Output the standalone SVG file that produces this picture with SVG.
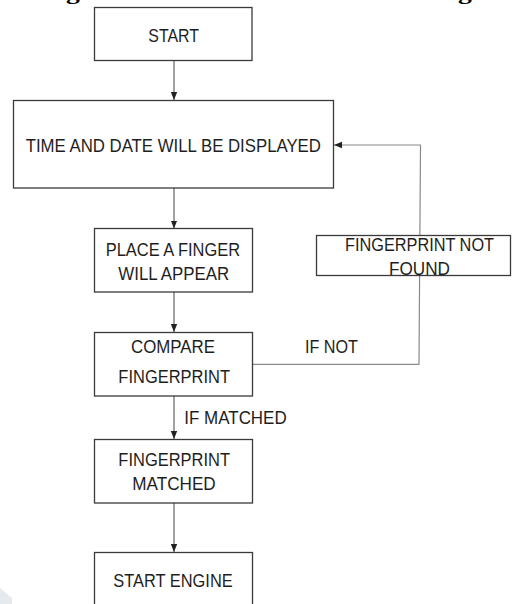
<svg xmlns="http://www.w3.org/2000/svg" width="512" height="604" viewBox="0 0 512 604">
<defs>
<style>
.box{fill:#fff;stroke:#3a3a3a;stroke-width:1.3}
.t{font-family:"Liberation Sans",Arial,sans-serif;font-size:18px;fill:#1e1e1e;text-anchor:middle}
.lbl{font-family:"Liberation Sans",Arial,sans-serif;font-size:18px;fill:#1e1e1e}
.c{fill:none;stroke:#444;stroke-width:1}
.fb{fill:none;stroke:#8a8a8a;stroke-width:1.2}
.title{font-family:"Liberation Serif","Times New Roman",serif;font-weight:bold;font-size:22px;fill:#000}
</style>
<marker id="ah" viewBox="0 0 8 8" refX="8" refY="4" markerWidth="8" markerHeight="8" markerUnits="userSpaceOnUse" orient="auto">
<path d="M0,0.8 L8,4 L0,7.2 Z" fill="#222"/>
</marker>
</defs>
<rect width="512" height="604" fill="#fff"/>
<path d="M0,588 L12,598 L12,604 L0,604 Z" fill="#e6eaee"/>
<text class="title" x="0" y="-1.5" textLength="507" lengthAdjust="spacingAndGlyphs">3.1 Figure: Flow chart of the Smart Engine</text>

<g id="connectors">
<line class="c" x1="174" y1="61" x2="174" y2="100" marker-end="url(#ah)"/>
<line class="c" x1="174" y1="188" x2="174" y2="228.5" marker-end="url(#ah)"/>
<line class="c" x1="174" y1="292" x2="174" y2="332" marker-end="url(#ah)"/>
<line class="c" x1="174" y1="396" x2="174" y2="439" marker-end="url(#ah)"/>
<line class="c" x1="174" y1="503" x2="174" y2="552" marker-end="url(#ah)"/>
<path class="fb" d="M253,364.3 L419,364.3 L420.5,145 L334,145" marker-end="url(#ah)"/>
</g>

<g id="start">
<rect class="box" x="94.5" y="7.5" width="157.5" height="53"/>
<text class="t" x="173.7" y="41.5" font-size="19.5" textLength="50.7" lengthAdjust="spacingAndGlyphs">START</text>
</g>

<g id="time-date">
<rect class="box" x="13.5" y="100.5" width="320" height="87.5"/>
<text class="t" x="173.3" y="152.3" font-size="20.3" textLength="295.3" lengthAdjust="spacingAndGlyphs">TIME AND DATE WILL BE DISPLAYED</text>
</g>

<g id="place-finger">
<rect class="box" x="94.5" y="228.5" width="158" height="63.5"/>
<text class="t" x="172.9" y="255.7" font-size="17.5" textLength="134.3" lengthAdjust="spacingAndGlyphs">PLACE A FINGER</text>
<text class="t" x="173.8" y="280" font-size="17.5" textLength="111" lengthAdjust="spacingAndGlyphs">WILL APPEAR</text>
</g>

<g id="compare">
<rect class="box" x="94.5" y="332.5" width="158" height="63.5"/>
<text class="t" x="173" y="353" textLength="84" lengthAdjust="spacingAndGlyphs">COMPARE</text>
<text class="t" x="174.2" y="383.3" textLength="111.7" lengthAdjust="spacingAndGlyphs">FINGERPRINT</text>
</g>

<g id="not-found">
<rect class="box" x="316.5" y="235.5" width="194" height="40"/>
<text class="t" x="419.5" y="250.7" font-size="18.7" textLength="149" lengthAdjust="spacingAndGlyphs">FINGERPRINT NOT</text>
<text class="t" x="419.5" y="275" font-size="18.7" textLength="61" lengthAdjust="spacingAndGlyphs">FOUND</text>
</g>

<g id="matched">
<rect class="box" x="94.5" y="439.5" width="158" height="63.5"/>
<text class="t" x="174.2" y="466" textLength="111.7" lengthAdjust="spacingAndGlyphs">FINGERPRINT</text>
<text class="t" x="174" y="490" textLength="83.4" lengthAdjust="spacingAndGlyphs">MATCHED</text>
</g>

<g id="start-engine">
<rect class="box" x="94.5" y="552.5" width="158" height="70"/>
<text class="t" x="173" y="587.3" font-size="18.6" textLength="119.4" lengthAdjust="spacingAndGlyphs">START ENGINE</text>
</g>

<g id="labels">
<text class="lbl" x="305" y="352.7" font-size="18.7" textLength="53" lengthAdjust="spacingAndGlyphs">IF NOT</text>
<text class="lbl" x="184.3" y="424" textLength="102.4" lengthAdjust="spacingAndGlyphs">IF MATCHED</text>
</g>
</svg>
